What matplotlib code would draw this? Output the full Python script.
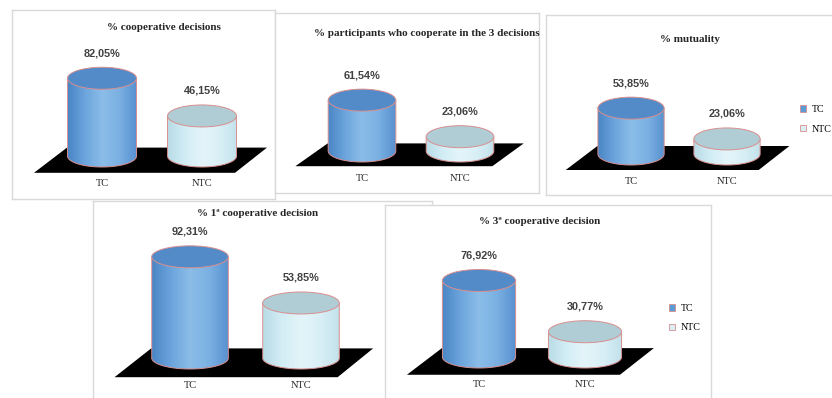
"""Five small 3D-style cylinder charts: TC vs NTC cooperation rates."""
import numpy as np
import matplotlib
matplotlib.use("Agg")
import matplotlib.pyplot as plt
from matplotlib.path import Path
from matplotlib.patches import PathPatch, Ellipse, Polygon, Patch
from matplotlib.colors import LinearSegmentedColormap

plt.rcParams["font.family"] = ["Liberation Serif", "DejaVu Serif"]

# data
titles = [
    "% cooperative decisions",
    "% participants who cooperate in the 3 decisions",
    "% mutuality",
    "% 1ª cooperative decision",
    "% 3ª cooperative decision",
]
categories = ["TC", "NTC"]
tc_values = [82.05, 61.54, 53.85, 92.31, 76.92]
ntc_values = [46.15, 23.06, 23.06, 53.85, 30.77]
has_legend = [False, False, True, False, True]

W, H = 832, 398
FLOOR = 8  # value level where the cylinders stand on the black floor

# panel layout (pixels): box, TC/NTC centre x, floor y, px per %, title centre, legend anchor
layout = [
    dict(box=(12, 10, 275, 199), cx=(102, 202), floor=156, s=1.05, title=(164, 28), leg=None),
    dict(box=(275, 13, 539, 193), cx=(362, 460), floor=151, s=0.95, title=(427, 33), leg=None),
    dict(box=(546, 15, 845, 195), cx=(631, 727), floor=154, s=1.00, title=(690, 40), leg=(800, 105)),
    dict(box=(93, 201, 432, 410), cx=(190, 301), floor=358, s=1.20, title=(258, 213), leg=None),
    dict(box=(385, 205, 711, 410), cx=(479, 585), floor=357, s=1.11, title=(540, 221), leg=(669, 304)),
]

EDGE = "#D98F8E"
tc_cmap = LinearSegmentedColormap.from_list(
    "tc", ["#4A85C5", "#6CA5DD", "#8BBDE8", "#7AB0E2", "#5690CF"])
ntc_cmap = LinearSegmentedColormap.from_list(
    "ntc", ["#B9DCE6", "#D3EDF5", "#E4F5FA", "#D8EFF6", "#C2E1EA"])
tops = ["#538AC8", "#B0CDD6"]
legend_colors = ["#5B9BD5", "#DAEEF3"]
cmaps = [tc_cmap, ntc_cmap]

fig = plt.figure(figsize=(W / 100, H / 100), dpi=100)
fig.patch.set_facecolor("white")


def cylinder(ax, x, top, w, eh, cmap, top_color, z):
    t = np.linspace(np.pi, 2 * np.pi, 80)
    xs = np.concatenate([[x - w], x + w * np.cos(t), [x + w]])
    ys = np.concatenate([[top], FLOOR + eh * np.sin(t), [top]])
    body = Path(np.column_stack([xs, ys]))
    clip = PathPatch(body, transform=ax.transData)
    im = ax.imshow(np.linspace(0, 1, 256)[None, :], cmap=cmap, aspect="auto",
                   extent=(x - w, x + w, FLOOR - eh, top), zorder=z,
                   interpolation="bilinear")
    im.set_clip_path(clip)
    ax.add_patch(PathPatch(body, facecolor="none", edgecolor=EDGE, lw=0.7, zorder=z + 0.1))
    ax.add_patch(Ellipse((x, top), 2 * w, 2 * eh, facecolor=top_color,
                         edgecolor=EDGE, lw=0.7, zorder=z + 0.2))


for k in range(len(titles)):
    L = layout[k]
    x0, y0, x1, y1 = L["box"]
    ax = fig.add_axes([x0 / W, 1 - y1 / H, (x1 - x0) / W, (y1 - y0) / H])
    ax.set_facecolor("white")
    ax.set_xticks([])
    ax.set_yticks([])
    for sp in ax.spines.values():
        sp.set_color("#D9D9D9")
        sp.set_linewidth(1.0)

    dx = L["cx"][1] - L["cx"][0]
    s = L["s"]
    eh = 11 / s
    w = 0.345

    ax.add_patch(Polygon([(-0.68, FLOOR - 16), (1.33, FLOOR - 16),
                          (1.65, FLOOR + 8), (-0.35, FLOOR + 8)],
                         closed=True, facecolor="black", edgecolor="none", zorder=1))

    vals = [tc_values[k], ntc_values[k]]
    for i, v in enumerate(vals):
        cylinder(ax, i, v, w, eh, cmaps[i], tops[i], 2 + i)
        ax.annotate(f"{v:.2f}".replace(".", ",") + "%", (i, v), xytext=(0, 18),
                    textcoords="offset points", ha="center", va="center",
                    fontsize=7.8, fontweight="bold", color="#404040",
                    family=["Liberation Sans", "DejaVu Sans"], zorder=10)
        ax.annotate(categories[i], (i, FLOOR), xytext=(0, -19.5),
                    textcoords="offset points", ha="center", va="center",
                    fontsize=7.5, color="#262626", zorder=10)

    ax.annotate(titles[k], (L["title"][0], H - L["title"][1]), xycoords="figure pixels",
                ha="center", va="center", fontsize=8.0, fontweight="bold",
                color="#262626", zorder=10)

    if has_legend[k]:
        handles = [Patch(facecolor=legend_colors[i], edgecolor=EDGE, lw=0.6,
                         label=categories[i]) for i in range(2)]
        lx, ly = L["leg"]
        ax.legend(handles=handles, loc="upper left", bbox_to_anchor=(lx / W, 1 - ly / H),
                  bbox_transform=fig.transFigure, frameon=False, fontsize=7.2,
                  handlelength=0.6, handleheight=0.6, handletextpad=0.6,
                  labelspacing=1.05, borderpad=0, borderaxespad=0)

    ax.set_xlim((x0 - L["cx"][0]) / dx, (x1 - L["cx"][0]) / dx)
    ax.set_ylim(FLOOR - (y1 - L["floor"]) / s, FLOOR + (L["floor"] - y0) / s)

fig.savefig("out.png", dpi=100, facecolor="white")
